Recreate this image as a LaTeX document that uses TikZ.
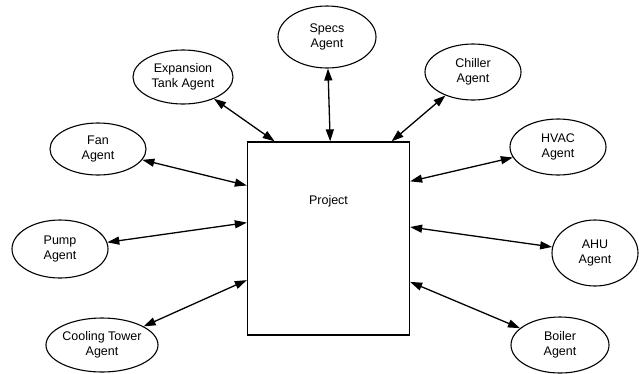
\documentclass[tikz,border=0pt]{standalone}
\usepackage{fontspec}
\setmainfont{Liberation Sans}
\usetikzlibrary{shapes.geometric,arrows.meta}
\tikzset{
    agent/.style={draw, ellipse, line width=1.1pt, inner sep=0pt,
        minimum width=98pt, minimum height=56pt, align=center,
        font=\fontsize{12.5}{15.5}\selectfont},
    link/.style={<->, >={Triangle[length=12pt,width=8pt]}, line width=1.3pt},
}

\begin{document}
\begin{tikzpicture}[x=1pt,y=-1pt]
\useasboundingbox (0,0) rectangle (639,373);
\node[draw, line width=1.3pt, minimum width=162pt, minimum height=193pt, inner sep=0pt,
    label={[anchor=center, yshift=-60pt, font=\fontsize{12.5}{15.5}\selectfont]north:Project}] (proj) at (328.5,238.5) {};
\node[agent, minimum height=62pt] (spec) at (327,37) {Specs\\Agent};
\node[agent, minimum width=100pt, minimum height=54pt] (exp) at (183,77) {Expansion\\Tank Agent};
\node[agent, minimum width=96pt, minimum height=52pt] (fan) at (98,149) {Fan\\Agent};
\node[agent, minimum width=96pt, minimum height=58pt] (pump) at (60,249) {Pump\\Agent};
\node[agent, minimum width=94pt, minimum height=54pt] (cool) at (102,345) {Cooling Tower\\Agent};
\node[agent, minimum width=96pt] (chill) at (473,72) {Chiller\\Agent};
\node[agent, minimum width=96pt] (hvac) at (558,147) {HVAC\\Agent};
\node[agent, minimum width=86pt, minimum height=66pt] (ahu) at (595,253) {AHU\\Agent};
\node[agent] (boil) at (560,345) {Boiler\\Agent};
% links to the project
\foreach \a/\d in {exp/119.4, spec/89, chill/57.5, fan/147.9, pump/169.8, cool/207.3, hvac/35.1, ahu/8.1, boil/-28.9} {
\draw[link] (\a) -- (proj.\d);
}
\end{tikzpicture}
\end{document}
